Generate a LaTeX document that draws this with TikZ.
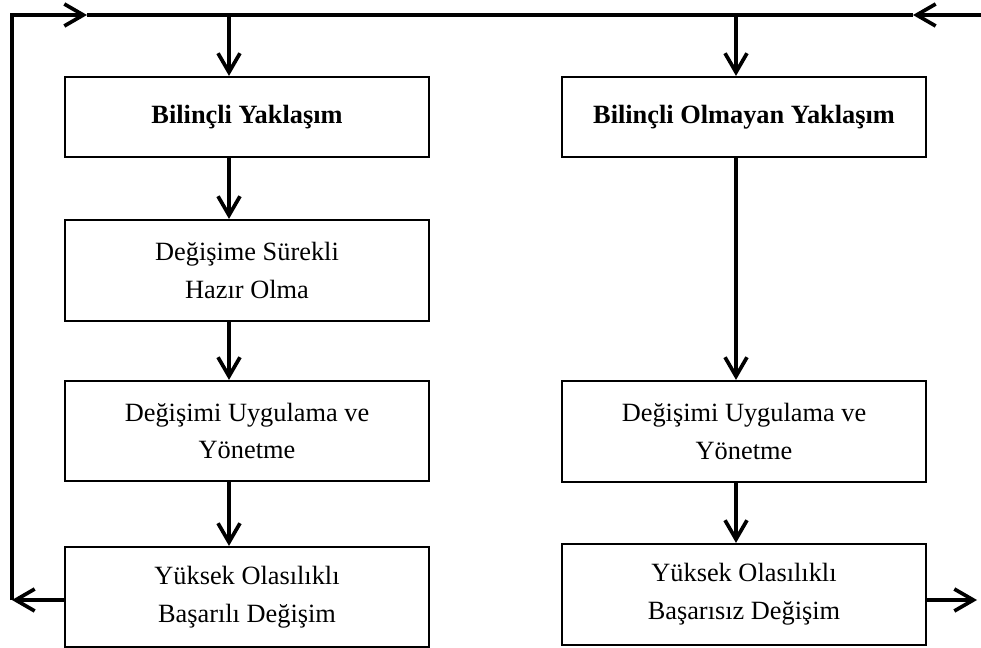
\documentclass[tikz,border=0pt]{standalone}
\usepackage{fontspec}
\setmainfont{Liberation Serif}
\usetikzlibrary{arrows.meta}
\begin{document}
\begin{tikzpicture}[x=0.02cm,y=-0.02cm,
  box/.style={draw, line width=1.25pt, minimum width=7.28cm, minimum height=2cm,
    align=center, inner sep=0pt, font=\fontsize{15}{21.5}\selectfont},
  headbox/.style={box, minimum height=1.6cm, font=\fontsize{15}{21.5}\selectfont\bfseries},
  wire/.style={line width=2.1pt, line join=miter},
  flow/.style={wire, -{Straight Barb[length=0.38cm,width=0.44cm]}}]
\useasboundingbox (0,0) rectangle (981,648);

% left column
\node[headbox] (L1) at (247,117) {Bilinçli Yaklaşım};
\node[box, minimum height=2.02cm] (L2) at (247,270.5) {Değişime Sürekli\\Hazır Olma};
\node[box] (L3) at (247,431) {Değişimi Uygulama ve\\Yönetme};
\node[box] (L4) at (247,597) {Yüksek Olasılıklı\\Başarılı Değişim};

% right column
\node[headbox] (R1) at (744,117) {Bilinçli Olmayan Yaklaşım};
\node[box, minimum height=2.02cm] (R3) at (744,431.5) {Değişimi Uygulama ve\\Yönetme};
\node[box, minimum height=2.02cm] (R4) at (744,594.5) {Yüksek Olasılıklı\\Başarısız Değişim};

% junction points
\coordinate (cTL) at (12,15);
\coordinate (cBL) at (12,600);
\coordinate (aL) at (87,15);
\coordinate (aR) at (913,15);
\coordinate (cTR) at (981,15);
\coordinate (jL) at (229,15);
\coordinate (jR) at (736,15);
\coordinate (rOut) at (977,600);

% feedback loop and top bus
\draw[flow] (L4.west |- cBL) -- (cBL);
\draw[flow] (cBL) -- (cTL) -- (aL);
\draw[wire] (aL) -- (aR);
\draw[flow] (cTR) -- (aR);

% left flow
\draw[flow] (jL) -- (jL |- L1.north);
\draw[flow] (L1.south -| jL) -- (L2.north -| jL);
\draw[flow] (L2.south -| jL) -- (L3.north -| jL);
\draw[flow] (L3.south -| jL) -- (L4.north -| jL);

% right flow
\draw[flow] (jR) -- (jR |- R1.north);
\draw[flow] (R1.south -| jR) -- (R3.north -| jR);
\draw[flow] (R3.south -| jR) -- (R4.north -| jR);
\draw[flow] (R4.east |- rOut) -- (rOut);
\end{tikzpicture}
\end{document}
